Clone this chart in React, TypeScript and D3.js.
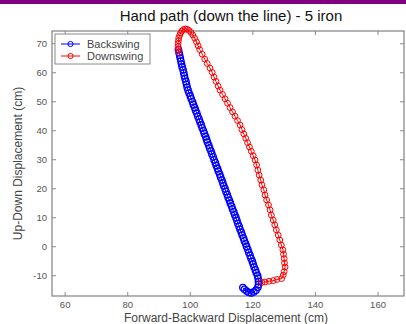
import { useEffect, useRef } from "react"
import * as d3 from "d3"

// Backswing hand path (cm): [forward-backward, up-down]
const backswing: [number, number][] = [
  [116.8, -14.1], [117.3, -14.7], [118.0, -15.3], [118.7, -15.8], [119.5, -16.0],
  [120.3, -15.6], [121.0, -15.0], [121.6, -14.0], [121.8, -13.0], [121.8, -12.0],
  [121.7, -11.0], [121.5, -10.0], [121.1, -9.0], [120.8, -8.0], [120.4, -7.0],
  [120.1, -6.0], [119.8, -5.0], [119.4, -4.0], [119.1, -3.0], [118.7, -2.0],
  [118.4, -1.0], [118.0, 0.0], [117.7, 1.0], [117.3, 2.0], [117.0, 3.0],
  [116.6, 4.0], [116.3, 5.0], [115.9, 6.0], [115.6, 7.0], [115.2, 8.0],
  [114.9, 9.0], [114.6, 10.0], [114.2, 11.0], [113.9, 12.0], [113.5, 13.0],
  [113.2, 14.0], [112.8, 15.0], [112.5, 16.0], [112.1, 17.0], [111.8, 18.0],
  [111.4, 19.0], [111.1, 20.0], [110.7, 21.0], [110.4, 22.0], [110.1, 23.0],
  [109.7, 24.0], [109.4, 25.0], [109.0, 26.0], [108.7, 27.0], [108.3, 28.0],
  [108.0, 29.0], [107.6, 30.0], [107.3, 31.0], [106.9, 32.0], [106.6, 33.0],
  [106.2, 34.0], [105.9, 35.0], [105.5, 36.0], [105.2, 37.0], [104.9, 38.0],
  [104.5, 39.0], [104.2, 40.0], [103.8, 41.0], [103.5, 42.0], [103.1, 43.0],
  [102.8, 44.0], [102.4, 45.0], [102.1, 46.0], [101.7, 47.0], [101.4, 48.0],
  [101.0, 49.0], [100.7, 50.0], [100.3, 51.0], [100.0, 52.0], [99.6, 53.0],
  [99.3, 54.0], [99.0, 55.0], [98.8, 56.0], [98.6, 57.0], [98.3, 58.0],
  [98.1, 59.0], [97.9, 60.0], [97.7, 61.0], [97.4, 62.0], [97.2, 63.0],
  [97.0, 64.0], [96.8, 65.0], [96.6, 66.0], [96.4, 67.0], [96.2, 68.0],
]

// Downswing hand path (cm)
const downswing: [number, number][] = [
  [96.3, 67.0], [96.2, 68.0], [96.1, 69.0], [96.1, 70.0], [96.2, 71.0],
  [96.3, 72.0], [96.6, 72.9], [96.9, 73.7], [97.3, 74.4], [97.8, 74.9],
  [98.4, 75.1], [99.0, 75.0], [99.6, 74.6], [100.2, 73.9], [100.8, 73.0],
  [101.4, 71.9], [102.0, 70.6], [102.5, 69.3], [103.0, 68.0], [103.8, 66.4],
  [104.6, 64.7], [105.4, 63.2], [106.3, 61.6], [107.0, 60.1], [107.6, 58.5],
  [108.2, 57.0], [108.9, 55.4], [109.5, 54.0], [110.3, 52.5], [111.1, 51.0],
  [111.9, 49.5], [112.7, 48.0], [113.5, 46.5], [114.3, 45.0], [115.1, 43.5],
  [115.9, 42.0], [116.5, 40.4], [117.1, 38.9], [117.7, 37.4], [118.3, 35.9],
  [118.9, 34.4], [119.5, 32.9], [120.1, 31.4], [120.7, 29.9], [121.2, 28.2],
  [121.6, 26.4], [122.0, 24.7], [122.5, 23.0], [122.9, 21.3], [123.5, 19.6],
  [123.9, 17.8], [124.4, 16.1], [125.0, 14.4], [125.5, 12.7], [125.9, 10.9],
  [126.5, 9.2], [127.0, 7.5], [127.5, 5.8], [128.1, 4.0], [128.6, 2.3],
  [129.1, 0.6], [129.6, -1.1], [129.8, -2.6], [130.0, -4.1], [130.1, -5.6],
  [130.3, -7.0], [130.0, -8.6], [129.7, -9.8], [129.2, -11.0], [127.7, -11.3],
  [126.5, -11.7], [125.2, -11.9], [123.9, -12.2], [122.9, -12.3],
]

const xTicks = [60, 80, 100, 120, 140, 160]
const yTicks = [-10, 0, 10, 20, 30, 40, 50, 60, 70]
const seriesNames = ["Backswing", "Downswing"]
const seriesColors = ["#0000ff", "#ff0000"]

export default function App() {
  const ref = useRef<SVGSVGElement>(null)

  useEffect(() => {
    const W = 406, H = 324
    const left = 52, right = 404, top = 31, bottom = 296
    const font = "Liberation Sans, Arial, sans-serif"
    const axisColor = "#8a8a8a"

    const x = d3.scaleLinear().domain([55.8, 168.3]).range([left, right])
    const y = d3.scaleLinear().domain([-17, 74.4]).range([bottom, top])

    const svg = d3.select(ref.current)
    svg.selectAll("*").remove()
    svg.attr("width", W).attr("height", H)

    svg.append("rect").attr("width", W).attr("height", H).attr("fill", "#fff")
    svg.append("rect").attr("width", W).attr("height", 4).attr("fill", "#800080")

    svg.append("text")
      .attr("x", 231).attr("y", 21)
      .attr("text-anchor", "middle")
      .attr("font-family", font).attr("font-size", 15)
      .attr("fill", "#111")
      .text("Hand path (down the line) - 5 iron")

    // frame
    svg.append("rect")
      .attr("x", left).attr("y", top)
      .attr("width", right - left).attr("height", bottom - top)
      .attr("fill", "none").attr("stroke", axisColor).attr("stroke-width", 1.3)

    const g = svg.append("g")

    // ticks (inside, on all four sides)
    xTicks.forEach(t => {
      g.append("line").attr("x1", x(t)).attr("x2", x(t)).attr("y1", bottom).attr("y2", bottom - 4)
        .attr("stroke", axisColor)
      g.append("line").attr("x1", x(t)).attr("x2", x(t)).attr("y1", top).attr("y2", top + 4)
        .attr("stroke", axisColor)
      g.append("text").attr("x", x(t)).attr("y", bottom + 12)
        .attr("text-anchor", "middle").attr("font-family", font).attr("font-size", 9.5)
        .attr("fill", "#555").text(t)
    })
    yTicks.forEach(t => {
      g.append("line").attr("x1", left).attr("x2", left + 4).attr("y1", y(t)).attr("y2", y(t))
        .attr("stroke", axisColor)
      g.append("line").attr("x1", right).attr("x2", right - 4).attr("y1", y(t)).attr("y2", y(t))
        .attr("stroke", axisColor)
      g.append("text").attr("x", left - 5).attr("y", y(t) + 3.5)
        .attr("text-anchor", "end").attr("font-family", font).attr("font-size", 9.5)
        .attr("fill", "#555").text(t)
    })

    svg.append("text")
      .attr("x", 226).attr("y", 322)
      .attr("text-anchor", "middle").attr("font-family", font).attr("font-size", 12)
      .attr("fill", "#444").text("Forward-Backward Displacement (cm)")
    svg.append("text")
      .attr("transform", `translate(22,${(top + bottom) / 2}) rotate(-90)`)
      .attr("text-anchor", "middle").attr("font-family", font).attr("font-size", 12)
      .attr("fill", "#444").text("Up-Down Displacement (cm)")

    // series
    const line = d3.line<[number, number]>().x(d => x(d[0])).y(d => y(d[1]))
    ;[backswing, downswing].forEach((data, i) => {
      const s = svg.append("g")
      s.append("path").attr("d", line(data)).attr("fill", "none")
        .attr("stroke", seriesColors[i]).attr("stroke-width", 1)
      s.selectAll("circle").data(data).join("circle")
        .attr("cx", d => x(d[0])).attr("cy", d => y(d[1])).attr("r", i === 0 ? 3.2 : 2.9)
        .attr("fill", "none").attr("stroke", seriesColors[i]).attr("stroke-width", i === 0 ? 1.3 : 1)
    })

    // legend
    const lg = svg.append("g")
    lg.append("rect").attr("x", 55).attr("y", 34).attr("width", 95).attr("height", 30)
      .attr("fill", "#fff").attr("stroke", axisColor).attr("stroke-width", 1)
    seriesNames.forEach((name, i) => {
      const ly = 44 + i * 12
      lg.append("line").attr("x1", 61).attr("x2", 80).attr("y1", ly).attr("y2", ly)
        .attr("stroke", seriesColors[i])
      lg.append("circle").attr("cx", 70.5).attr("cy", ly).attr("r", 2.6)
        .attr("fill", "none").attr("stroke", seriesColors[i])
      lg.append("text").attr("x", 87).attr("y", ly + 4)
        .attr("font-family", font).attr("font-size", 11).attr("fill", "#444").text(name)
    })
  }, [])

  return <svg ref={ref} style={{ position: "fixed", left: 0, top: 0, display: "block" }} />
}
